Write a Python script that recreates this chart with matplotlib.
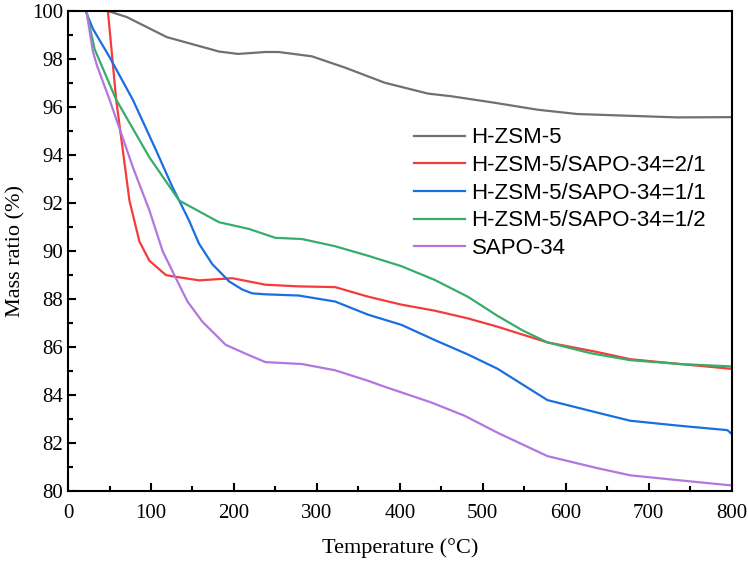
import matplotlib.pyplot as plt
from matplotlib.ticker import MultipleLocator

# temperatures (°C) and mass ratio (%)
t_hzsm = [22, 47, 71, 119, 182, 205, 238, 254, 294, 334, 382, 434, 462, 514, 566, 614,
          674, 734, 800]
m_hzsm = [100, 100, 99.73, 98.9, 98.3, 98.2, 98.28, 98.28, 98.1, 97.63, 97.0, 96.55,
          96.44, 96.17, 95.88, 95.7, 95.63, 95.56, 95.57]

t_21 = [22, 48, 58, 66, 74, 86, 98, 118, 126, 158, 198, 238, 278, 322, 362, 402, 442,
        482, 518, 578, 638, 678, 738, 800]
m_21 = [100, 100, 96.3, 94.2, 92.1, 90.4, 89.6, 89.0, 88.95, 88.78, 88.87, 88.6, 88.53,
        88.5, 88.1, 87.77, 87.52, 87.2, 86.85, 86.2, 85.8, 85.5, 85.3, 85.1]

t_11 = [21, 30, 50, 78, 106, 126, 134, 146, 158, 174, 186, 194, 210, 222, 238, 278, 322,
        362, 402, 442, 482, 518, 578, 638, 678, 738, 795, 800]
m_11 = [100, 99.24, 98.07, 96.3, 94.2, 92.65, 92.1, 91.26, 90.3, 89.45, 89.03, 88.74,
        88.4, 88.24, 88.2, 88.15, 87.9, 87.35, 86.93, 86.3, 85.7, 85.1, 83.8, 83.28,
        82.94, 82.73, 82.55, 82.4]

t_12 = [22, 32, 58, 98, 134, 158, 182, 218, 250, 282, 322, 362, 402, 442, 482, 518, 548,
        578, 630, 678, 738, 800]
m_12 = [100, 98.4, 96.3, 93.9, 92.1, 91.65, 91.2, 90.92, 90.55, 90.5, 90.2, 89.8, 89.37,
        88.8, 88.1, 87.3, 86.7, 86.2, 85.75, 85.46, 85.3, 85.2]

t_sapo = [22, 30, 35, 50, 78, 98, 114, 130, 144, 162, 190, 218, 238, 282, 322, 362, 378,
          438, 478, 518, 578, 638, 678, 738, 800]
m_sapo = [100, 98.3, 97.7, 96.3, 93.5, 91.7, 90.0, 88.87, 87.9, 87.06, 86.1, 85.67,
          85.38, 85.3, 85.04, 84.6, 84.4, 83.7, 83.15, 82.44, 81.47, 80.97, 80.67, 80.46,
          80.25]

labels = ["H-ZSM-5", "H-ZSM-5/SAPO-34=2/1", "H-ZSM-5/SAPO-34=1/1",
          "H-ZSM-5/SAPO-34=1/2", "SAPO-34"]
colors = ["#707070", "#f53b3b", "#1a6fdf", "#37ad6b", "#b177de"]

fig = plt.figure(figsize=(7.48, 5.61), dpi=100)
ax = fig.add_axes([0.091, 0.124, 0.887, 0.857])

series = [(t_hzsm, m_hzsm), (t_21, m_21), (t_11, m_11), (t_12, m_12), (t_sapo, m_sapo)]
for (t, m), lab, c in zip(series, labels, colors):
    ax.plot(t, m, color=c, lw=1.6, label=lab)

ax.set_xlim(0, 800)
ax.set_ylim(80, 100)
ax.xaxis.set_major_locator(MultipleLocator(100))
ax.xaxis.set_minor_locator(MultipleLocator(50))
ax.yaxis.set_major_locator(MultipleLocator(2))
ax.yaxis.set_minor_locator(MultipleLocator(1))
ax.tick_params(which="both", direction="in", width=1.5, top=False, right=False)
ax.tick_params(which="major", length=6, labelsize=15)
ax.tick_params(axis="x", which="major", pad=9)
ax.tick_params(which="minor", length=3.5)
for lbl in ax.get_xticklabels() + ax.get_yticklabels():
    lbl.set_fontfamily("Liberation Serif")
for s in ax.spines.values():
    s.set_linewidth(1.5)

ax.set_xlabel("Temperature (°C)", fontfamily="Liberation Serif", fontsize=16, labelpad=11)
ax.set_ylabel("Mass ratio (%)", fontfamily="Liberation Serif", fontsize=16, labelpad=5)

ax.legend(loc="upper left", bbox_to_anchor=(0.521, 0.757), frameon=False,
          prop={"family": "Liberation Sans", "size": 16}, handlelength=2.3,
          labelspacing=0.3, handletextpad=0.3, borderpad=0, borderaxespad=0)

fig.savefig("out.png", dpi=100)
